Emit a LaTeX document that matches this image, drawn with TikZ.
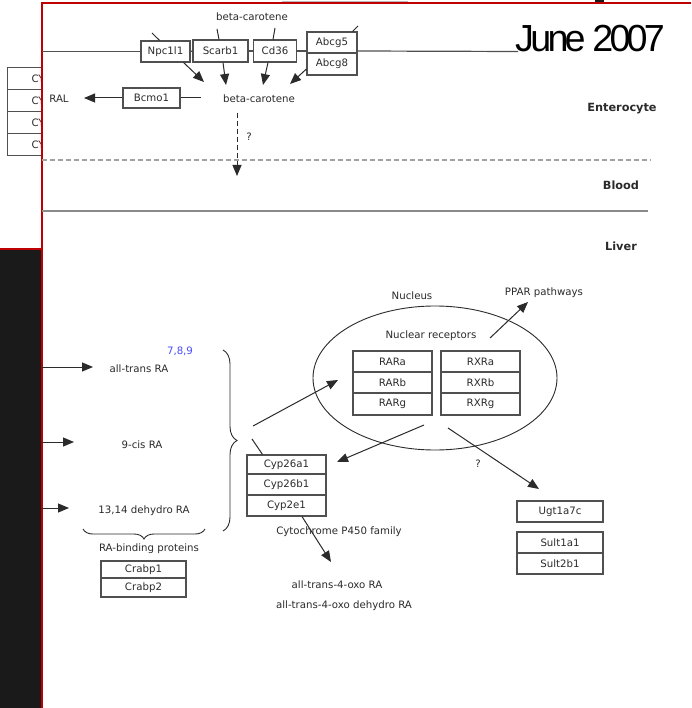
\documentclass[tikz,border=0pt]{standalone}
\usepackage{fontspec}
\setmainfont{DejaVu Sans}
\newfontfamily\headfont[LetterSpace=-10]{Liberation Sans}
\usetikzlibrary{arrows.meta,shapes.geometric,decorations.pathreplacing}

\definecolor{framered}{HTML}{C00000}
\definecolor{ink}{HTML}{2B2B2B}
\definecolor{edge}{HTML}{505050}
\definecolor{rulegray}{HTML}{8A8A8A}
\definecolor{panelblack}{HTML}{1A1A1A}
\definecolor{numblue}{HTML}{4B4BFF}

\tikzset{
  lbl/.style={inner sep=0pt, text=ink, font=\fontsize{10.2}{12}\selectfont},
  gene/.style={draw=edge, line width=1.1pt, inner sep=0pt, text=ink,
    font=\fontsize{10.2}{12}\selectfont},
  zone/.style={inner sep=0pt, text=ink, font=\bfseries\fontsize{11.3}{13}\selectfont},
  arr/.style={draw=ink, line width=1pt, -{Triangle[length=11pt,width=9pt]}},
  wire/.style={draw=ink, line width=1pt},
  memb/.style={draw=edge, line width=1.2pt},
  curly/.style={draw=ink, line width=0.9pt, decorate},
}

\begin{document}
\begin{tikzpicture}[x=1pt,y=-1pt]
\useasboundingbox (0,0) rectangle (691,708);
\fill[white] (0,0) rectangle (691,708);

% boxes of the slide behind, mostly covered by the panel
\foreach \yy/\nm in {67/cya,89/cyb,111/cyc,133/cyd}{
  \node[gene, anchor=north west, minimum width=60pt, minimum height=22pt,
        text width=60pt, align=left] (\nm) at (7,\yy) {\hspace{24pt}CY};
}
% top strip of the slide behind
\draw[rulegray!60, line width=1.5pt] (282,1.5) -- (408,1.5);
\fill[panelblack] (595,0) rectangle (604,3);

% white panel with red frame
\fill[white] (42,4) rectangle (691,708);
\fill[panelblack] (0,249) rectangle (41,708);
\draw[framered, line width=2pt] (0,249) -- (41.5,249);
\draw[framered, line width=2pt] (41.5,708) -- (41.5,3.5) -- (691,3.5);

% date
\node[inner sep=0pt, anchor=base west, text=black,
      font=\headfont\fontsize{37.7}{40}\selectfont] (date) at (515,52) {June 2007};

% ---------------- enterocyte ----------------
\node[lbl] (bctop) at (252,17) {beta-carotene};
\node[gene, minimum width=49pt, minimum height=21pt] (npc) at (165.5,51.5) {Npc1l1};
\node[gene, minimum width=55pt, minimum height=22pt] (scarb) at (220.5,51) {Scarb1};
\node[gene, minimum width=43pt, minimum height=22pt] (cd) at (275,51) {Cd36};
\node[gene, minimum width=50pt, minimum height=21pt] (abcga) at (332,42.5) {Abcg5};
\node[gene, minimum width=50pt, minimum height=22pt] (abcgb) at (332,64) {Abcg8};

% membrane
\coordinate (membL) at (42,51.5);
\coordinate (membR) at (518,51.5);
\draw[memb] (membL) -- (npc.west);
\draw[memb] (npc.east) -- (scarb.west);
\draw[memb] (scarb.east) -- (cd.west);
\draw[memb] (cd.east) -- (cd.east -| abcga.west);
\draw[memb] (cd.east -| abcga.east) -- (membR);

% short ticks above the transporters
\coordinate (k1) at (152,33);
\coordinate (k2) at (217,29);
\coordinate (k3) at (275,28);
\coordinate (k4) at (358,26);
\draw[wire] (k1) -- ([xshift=-6pt]npc.north);
\draw[wire] (k2) -- ([xshift=-1.5pt]scarb.north);
\draw[wire] (k3) -- ([xshift=-2pt]cd.north);
\draw[wire] (k4) -- ([xshift=-5pt]abcga.north east);

\node[lbl] (bc) at (259,99) {beta-carotene};
\coordinate (t1) at (204,82);
\coordinate (t2) at (226,85);
\coordinate (t3) at (263,85);
\coordinate (t4) at (290,84);
\draw[arr] ([xshift=-7pt]npc.south east) -- (t1);
\draw[arr] ([xshift=2.5pt]scarb.south) -- (t2);
\draw[arr] ([xshift=-7pt]cd.south) -- (t3);
\draw[arr] ([yshift=-5pt]abcgb.west) -- (t4);

\node[gene, minimum width=57pt, minimum height=20pt] (bcmo) at (151.5,98) {Bcmo1};
\node[lbl] (ral) at (59,98.5) {RAL};
\coordinate (b0) at (201,98);
\coordinate (t5) at (84,98);
\draw[wire] (b0) -- (bcmo.east);
\draw[arr] (bcmo.west) -- (t5);

\coordinate (d0) at (237,113);
\coordinate (d1) at (237,176);
\draw[arr, dash pattern=on 5pt off 3pt] (d0) -- (d1);
\node[lbl] (q1) at (249,137) {?};

% compartments
\coordinate (s1a) at (42,160);
\coordinate (s1b) at (651,160);
\coordinate (s2a) at (42,211);
\coordinate (s2b) at (648,211);
\draw[rulegray!80, line width=1.2pt, dash pattern=on 5pt off 3pt] (s1a) -- (s1b);
\draw[rulegray, line width=1.8pt] (s2a) -- (s2b);
\node[zone] (ent) at (622,109) {Enterocyte};
\node[zone] (blood) at (621,185) {Blood};
\node[zone] (liver) at (621,246) {Liver};

% ---------------- liver ----------------
\node[lbl] (nuclbl) at (412,296) {Nucleus};
\node[lbl] (ppar) at (544,293) {PPAR pathways};
\node[draw=ink, line width=0.9pt, ellipse, minimum width=244pt,
      minimum height=144pt, inner sep=0pt] (nuc) at (435,378) {};
\node[lbl] (nr) at (431,336) {Nuclear receptors};
\coordinate (p0) at (490,338);
\coordinate (p1) at (528,302);
\draw[arr] (p0) -- (p1);

\node[gene, minimum width=79pt, minimum height=21pt] (rara) at (392.5,361.5) {RARa};
\node[gene, minimum width=79pt, minimum height=21pt] (rarb) at (392.5,382.5) {RARb};
\node[gene, minimum width=79pt, minimum height=22pt] (rarg) at (392.5,404) {RARg};
\node[gene, minimum width=79pt, minimum height=21pt] (rxra) at (480.5,361.5) {RXRa};
\node[gene, minimum width=79pt, minimum height=21pt] (rxrb) at (480.5,382.5) {RXRb};
\node[gene, minimum width=79pt, minimum height=22pt] (rxrg) at (480.5,404) {RXRg};

% retinoic acids
\node[lbl, text=numblue] (pos) at (180,351) {7,8,9};
\node[lbl] (atra) at (139,369) {all-trans RA};
\node[lbl] (cis) at (142,445) {9-cis RA};
\node[lbl] (dehy) at (144,511) {13,14 dehydro RA};
\coordinate (l1a) at (42,367);
\coordinate (l1b) at (93,367);
\coordinate (l2a) at (42,442);
\coordinate (l2b) at (74,442);
\coordinate (l3a) at (42,508);
\coordinate (l3b) at (69,508);
\draw[arr] (l1a) -- (l1b);
\draw[arr] (l2a) -- (l2b);
\draw[arr] (l3a) -- (l3b);

\coordinate (br1a) at (223,350);
\coordinate (br1b) at (223,531);
\draw[curly, decoration={brace, amplitude=14pt}] (br1a) -- (br1b);
\coordinate (br2a) at (205,529);
\coordinate (br2b) at (83,529);
\draw[curly, decoration={brace, amplitude=10pt}] (br2a) -- (br2b);

\node[lbl] (rabp) at (149,549) {RA-binding proteins};
\node[gene, minimum width=85pt, minimum height=17pt] (crabpa) at (143.5,569.5) {Crabp1};
\node[gene, minimum width=85pt, minimum height=19pt] (crabpb) at (143.5,587.5) {Crabp2};

% cytochromes
\node[gene, minimum width=79pt, minimum height=19pt] (cypa) at (286.5,464.5) {Cyp26a1};
\node[gene, minimum width=79pt, minimum height=21pt] (cypb) at (286.5,484.5) {Cyp26b1};
\node[gene, minimum width=79pt, minimum height=21pt] (cypc) at (286.5,505.5) {Cyp2e1};
\node[lbl] (p450) at (339,532) {Cytochrome P450 family};

\coordinate (c0) at (252,439);
\draw[wire] (c0) -- ([xshift=-24pt]cypa.north);
\coordinate (r0) at (253,426);
\coordinate (r1) at (338,380);
\draw[arr] (r0) -- (r1);
\coordinate (n0) at (424,425);
\coordinate (n1) at (337,462);
\draw[arr] (n0) -- (n1);
\coordinate (n2) at (448,428);
\coordinate (n3) at (539,489);
\draw[arr] (n2) -- (n3);
\node[lbl] (q2) at (478,464) {?};

\coordinate (o1) at (331,562);
\draw[arr] ([xshift=15.5pt]cypc.south) -- (o1);
\node[lbl] (oxo) at (337,585) {all-trans-4-oxo RA};
\node[lbl] (oxod) at (344,606) {all-trans-4-oxo dehydro RA};

% conjugating enzymes
\node[gene, minimum width=86pt, minimum height=21pt] (ugt) at (560,511.5) {Ugt1a7c};
\node[gene, minimum width=86pt, minimum height=21pt] (sulta) at (560,542.5) {Sult1a1};
\node[gene, minimum width=86pt, minimum height=21pt] (sultb) at (560,563.5) {Sult2b1};
\end{tikzpicture}
\end{document}
